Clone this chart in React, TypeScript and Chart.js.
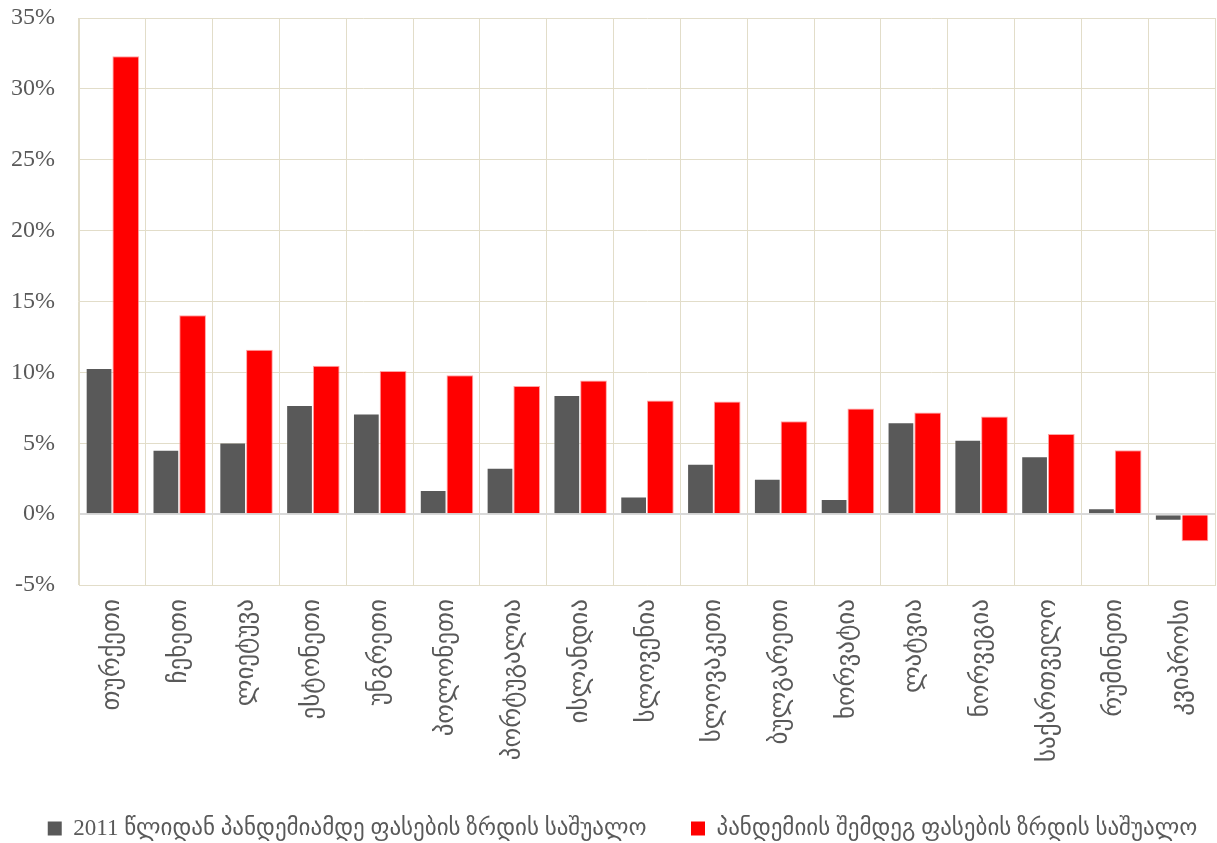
import React, { useEffect, useRef } from "react";
import { Chart, registerables } from "chart.js";

Chart.register(...registerables);

const categories = [
  "თურქეთი",
  "ჩეხეთი",
  "ლიეტუვა",
  "ესტონეთი",
  "უნგრეთი",
  "პოლონეთი",
  "პორტუგალია",
  "ისლანდია",
  "სლოვენია",
  "სლოვაკეთი",
  "ბულგარეთი",
  "ხორვატია",
  "ლატვია",
  "ნორვეგია",
  "საქართველო",
  "რუმინეთი",
  "კვიპროსი",
];

const preCovidLabel = "2011 წლიდან პანდემიამდე ფასების ზრდის საშუალო";
const postCovidLabel = "პანდემიის შემდეგ ფასების ზრდის საშუალო";

const preCovid = [10.3, 4.55, 5.05, 7.7, 7.1, 1.7, 3.28, 8.4, 1.25, 3.56, 2.5, 1.06, 6.49, 5.24, 4.08, 0.42, -0.47];
const postCovid = [32.3, 14.03, 11.6, 10.47, 10.1, 9.79, 9.03, 9.43, 8.02, 7.95, 6.56, 7.45, 7.17, 6.89, 5.66, 4.5, -1.91];

const yMin = -5;
const yMax = 35;
const yStep = 5;

const FONT = "'Liberation Serif', 'DejaVu Sans', serif";
const TEXT = "#595959";
const GRID = "#e2ddc9";

const CANVAS_W = 1217;
const CANVAS_H = 850;
const LEGEND_SHIFT = 15;

const legendShift = {
  id: "legendShift",
  afterLayout(chart: any) {
    if (chart.legend) {
      chart.legend.left += LEGEND_SHIFT;
      chart.legend.right += LEGEND_SHIFT;
    }
  },
};

export default function App() {
  const ref = useRef<HTMLCanvasElement | null>(null);

  useEffect(() => {
    if (!ref.current) return;
    const chart = new Chart(ref.current, {
      type: "bar",
      plugins: [legendShift],
      data: {
        labels: categories,
        datasets: [
          {
            label: preCovidLabel,
            data: preCovid,
            backgroundColor: "#595959",
            borderColor: "rgba(255,255,255,0.35)",
            borderWidth: 1,
            categoryPercentage: 0.8,
            barPercentage: 1.0,
          },
          {
            label: postCovidLabel,
            data: postCovid,
            backgroundColor: "#ff0000",
            borderColor: "rgba(255,140,140,0.8)",
            borderWidth: 1,
            categoryPercentage: 0.8,
            barPercentage: 1.0,
          },
        ],
      },
      options: {
        animation: false,
        responsive: false,
        maintainAspectRatio: false,
        layout: { padding: { top: 0, right: 2, left: 0, bottom: 0 } },
        plugins: {
          tooltip: { enabled: false },
          legend: {
            position: "bottom",
            labels: {
              color: TEXT,
              font: { family: FONT, size: 23 },
              boxWidth: 14,
              boxHeight: 14,
              padding: 10,
              generateLabels: (c: any) => {
                const items = Chart.defaults.plugins.legend.labels.generateLabels(c);
                if (items[0]) items[0].text = items[0].text + "      ";
                items.forEach((it: any) => {
                  it.lineWidth = 0;
                });
                return items;
              },
            },
          },
        },
        scales: {
          x: {
            grid: { color: GRID, lineWidth: 1, drawTicks: false, offset: true },
            border: { color: GRID },
            ticks: {
              color: TEXT,
              font: { family: FONT, size: 25 },
              minRotation: 90,
              maxRotation: 90,
              padding: 14,
            },
            afterFit: (scale: any) => {
              scale.height = 222;
              scale.paddingLeft = 0;
              scale.paddingRight = 0;
            },
          },
          y: {
            min: yMin,
            max: yMax,
            grid: {
              drawTicks: false,
              color: (ctx: any) => (ctx.tick && ctx.tick.value === 0 ? "#d9d9d9" : GRID),
              lineWidth: (ctx: any) => (ctx.tick && ctx.tick.value === 0 ? 2 : 1),
            },
            border: { color: GRID },
            ticks: {
              stepSize: yStep,
              color: TEXT,
              font: { family: FONT, size: 24 },
              padding: 24,
              callback: (v: any) => `${v}%`,
            },
            afterFit: (scale: any) => {
              scale.width = 79;
              scale.paddingTop = 18;
              scale.paddingBottom = 0;
            },
          },
        },
      },
    });
    return () => chart.destroy();
  }, []);

  return (
    <div style={{ position: "fixed", left: 0, top: 0, width: 1217, height: 843, overflow: "hidden", background: "#fff" }}>
      <canvas ref={ref} width={CANVAS_W} height={CANVAS_H} style={{ width: CANVAS_W, height: CANVAS_H, display: "block" }} />
    </div>
  );
}
